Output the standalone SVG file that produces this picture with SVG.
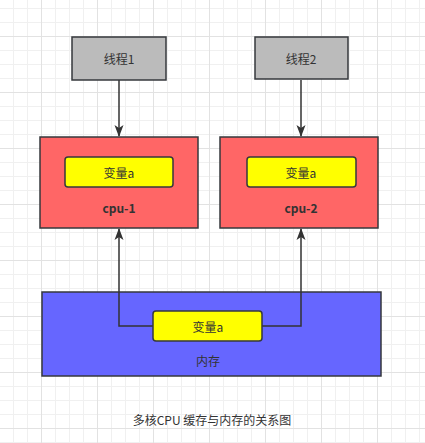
<svg xmlns="http://www.w3.org/2000/svg" width="425" height="443" viewBox="0 0 425 443">
<defs>
<pattern id="gMinor" width="14" height="14" patternUnits="userSpaceOnUse" x="-1" y="8">
<path d="M0 0.5H14M0.5 0V14" fill="none" stroke="#f0f0f0" stroke-width="1"/>
</pattern>
<pattern id="gMajor" width="56" height="56" patternUnits="userSpaceOnUse" x="-15" y="36">
<path d="M0 0.5H56M0.5 0V56" fill="none" stroke="#e2e2e2" stroke-width="1"/>
</pattern>
<marker id="arr" viewBox="0 0 12 10" refX="11" refY="5" markerWidth="12" markerHeight="10" orient="auto" markerUnits="userSpaceOnUse">
<path d="M0 0.5L12 5L0 9.5L3 5Z" fill="#333"/>
</marker>
</defs>
<style>
.lbl{font-family:"Noto Sans CJK SC","Liberation Sans",sans-serif;font-size:12px;fill:#333;text-anchor:middle;dominant-baseline:central}
.bold{font-weight:bold}
.thread{fill:#bbbbbb;stroke:#36393d;stroke-width:1.5}
.cpu{fill:#ff6666;stroke:#36393d;stroke-width:1.5}
.mem{fill:#6666ff;stroke:#36393d;stroke-width:1.5}
.var{fill:#ffff00;stroke:#36393d;stroke-width:1.5}
.edge{fill:none;stroke:#333;stroke-width:1.5}
</style>
<rect width="425" height="443" fill="#ffffff"/>
<rect width="425" height="443" fill="url(#gMinor)"/>
<rect width="425" height="443" fill="url(#gMajor)"/>
<g id="cpu1">
<rect class="cpu" x="40" y="137" width="158" height="91"/>
<text class="lbl bold" x="119" y="207">cpu-1</text>
</g>
<g id="cpu2">
<rect class="cpu" x="220" y="137" width="158" height="91"/>
<text class="lbl bold" x="301" y="207">cpu-2</text>
</g>
<g id="mem">
<rect class="mem" x="42" y="292" width="339" height="84"/>
<text class="lbl" x="208" y="360">内存</text>
</g>
<g id="connectors">
<path class="edge" d="M119 80V136" marker-end="url(#arr)"/>
<path class="edge" d="M301 80V136" marker-end="url(#arr)"/>
<path class="edge" d="M153 326H119V229" marker-end="url(#arr)"/>
<path class="edge" d="M262 326H301V229" marker-end="url(#arr)"/>
</g>
<g id="thread1">
<rect class="thread" x="72" y="37" width="94" height="43"/>
<text class="lbl" x="119" y="58">线程1</text>
</g>
<g id="thread2">
<rect class="thread" x="255" y="37" width="93" height="42"/>
<text class="lbl" x="301" y="58">线程2</text>
</g>
<g id="var1">
<rect class="var" x="65" y="157" width="108" height="30" rx="3"/>
<text class="lbl" x="119" y="172">变量a</text>
</g>
<g id="var2">
<rect class="var" x="247" y="157" width="109" height="30" rx="3"/>
<text class="lbl" x="301" y="172">变量a</text>
</g>
<g id="var3">
<rect class="var" x="153" y="311" width="109" height="30" rx="3"/>
<text class="lbl" x="208" y="326">变量a</text>
</g>
<text class="lbl" x="212" y="419">多核CPU 缓存与内存的关系图</text>
</svg>
